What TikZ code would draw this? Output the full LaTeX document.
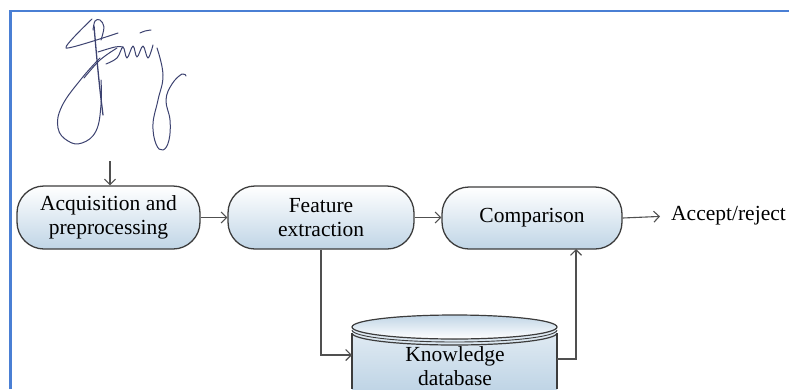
\documentclass[tikz,border=0pt]{standalone}
\usepackage{fontspec}
\setmainfont{Liberation Serif}
\usetikzlibrary{arrows.meta}
\definecolor{boxline}{RGB}{60,60,60}
\definecolor{boxfill}{RGB}{192,213,230}
\definecolor{arrline}{RGB}{80,80,80}
\definecolor{bord}{RGB}{74,127,212}
\definecolor{sigc}{RGB}{60,66,112}
\begin{document}
\begin{tikzpicture}[x=1pt,y=-1pt,
  lbl/.style={font=\fontsize{21.5}{23.5}\selectfont, align=center},
  box/.style={lbl, draw=boxline, line width=1.3pt, rounded corners=27pt, top color=white, bottom color=boxfill, minimum height=63pt, inner sep=0pt},
  arr/.style={draw=arrline, line width=1.1pt, -{Straight Barb[length=5.5pt,width=11pt]}},
  sig/.style={draw=sigc, line width=1pt, line cap=round, line join=round},
  cyl/.style={draw=boxline, line width=1.2pt}
]
\path[use as bounding box] (0,0) rectangle (789,389);
% frame
\draw[bord, line width=2.5pt] (10.5,389) -- (10.5,11) -- (789,11);

% signature
\draw[sig] plot[smooth, tension=0.4] coordinates {(92,19) (66,48) (118,33)};
\draw[sig] plot[smooth, tension=0.6] coordinates {(93,30) (95,21) (100,20) (104,27) (101,40)};
\draw[sig, line width=1.3pt] plot[smooth, tension=0.6] coordinates {(94,26) (97,60) (100,90) (103,115)};
\draw[sig] plot[smooth, tension=0.6] coordinates {(84,78) (100,60) (117,48)};
\draw[sig] plot[smooth, tension=0.6] coordinates {(98,52) (115,47) (123,47)};
\draw[sig] plot[smooth, tension=0.6] coordinates {(106,64) (117,58) (123,47) (127,58) (133,46) (137,57) (143,46) (148,58) (153,45)};
\draw[sig] plot[smooth, tension=0.6] coordinates {(140,33) (145,31) (151,30)};
\draw[sig] plot[smooth, tension=0.7] coordinates {(100,58) (82,78) (62,106) (58,128) (68,141) (82,143) (96,131) (101,105) (101,80)};
\draw[sig] plot[smooth, tension=0.7] coordinates {(157,48) (163,75) (158,100) (153,124) (156,144) (163,150) (169,140) (170,120) (166,100) (172,84) (182,74) (186,76)};

% nodes
\node[box, minimum width=183pt] (acq) at (108.5,217.5) {Acquisition and\\preprocessing};
\node[box, minimum width=186pt] (feat) at (321,217.5) {Feature\\extraction};
\node[box, minimum width=180pt, minimum height=62pt] (comp) at (532,218) {Comparison};
\node[lbl, anchor=west, inner sep=1pt] (out) at (670,216) {Accept/reject};

% cylinder
\fill[top color=boxfill!45, bottom color=boxfill] (352,327) rectangle (557,389);
\draw[cyl] (352,333) -- (352,389);
\draw[cyl] (557,333) -- (557,389);
\fill[top color=boxfill, bottom color=white] (454.5,327) ellipse [x radius=102.5, y radius=12];
\draw[cyl] (454.5,327) ellipse [x radius=102.5, y radius=12];
\draw[cyl, line width=0.9pt] (352,330) arc[start angle=180, end angle=0, x radius=102.5, y radius=12];
\draw[cyl] (352,333) arc[start angle=180, end angle=0, x radius=102.5, y radius=12];
\node[lbl, inner sep=0pt] (db) at (455,366) {Knowledge\\database};
\coordinate (dbL) at (352,355);
\coordinate (dbR) at (557,359);
\coordinate (cup) at (576,249);
\coordinate (sigend) at (110,161);

% connectors
\draw[arr] (sigend) -- (sigend |- acq.north);
\draw[arr] (acq) -- (feat);
\draw[arr] (feat.east) -- (feat.east -| comp.west);
\draw[arr, shorten >=10pt] (comp.east) -- (out.west);
\draw[arr] (feat.south) |- (dbL);
\draw[arr] (dbR) -| (cup);
\end{tikzpicture}
\end{document}
